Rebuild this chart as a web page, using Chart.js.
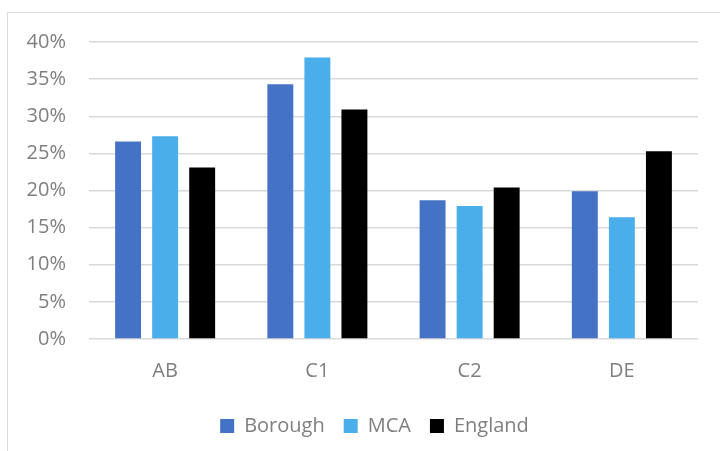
<!DOCTYPE html>
<html>
<head>
<meta charset="utf-8">
<script src="https://cdn.jsdelivr.net/npm/chart.js@4"></script>
<style>
  html, body { margin: 0; padding: 0; background: #fff; overflow: hidden; }
  #wrap { position: relative; width: 720px; height: 451px; overflow: hidden; }
  #frame {
    position: absolute; left: 7px; top: 12px; width: 800px; height: 600px;
    border: 1.5px solid #d9d9d9; box-sizing: border-box;
  }
  #myChart { position: absolute; left: 0; top: 0; }
</style>
</head>
<body>
<div id="wrap">
  <div id="frame"></div>
  <canvas id="myChart" width="739" height="451"></canvas>
</div>
<script>
const groups = ["AB", "C1", "C2", "DE"];
const borough = [26.6, 34.3, 18.7, 19.9];
const mca = [27.3, 37.9, 17.9, 16.4];
const england = [23.1, 30.9, 20.4, 25.3];
// percent axis: 0% to 40% in 5% steps
const y_min = 0;
const y_max = 40;
const y_step = 5;

const borough_color = "#4472C4";
const mca_color = "#4AAEEA";
const england_color = "#000000";
const text_color = "#7f7f7f";
const grid_color = "#d9d9d9";

Chart.defaults.font.family = "'Open Sans', sans-serif";
Chart.defaults.font.size = 20;
Chart.defaults.color = text_color;

const bar_set = (label, data, color) => ({
  label: label,
  data: data,
  backgroundColor: color,
  borderWidth: 0,
  categoryPercentage: 0.73,
  barPercentage: 0.70,
});

const ctx = document.getElementById("myChart").getContext("2d");
const myChart = new Chart(ctx, {
  type: "bar",
  data: {
    labels: groups,
    datasets: [
      bar_set("Borough", borough, borough_color),
      bar_set("MCA", mca, mca_color),
      bar_set("England", england, england_color),
    ],
  },
  options: {
    responsive: false,
    maintainAspectRatio: false,
    animation: false,
    layout: {
      padding: { left: 10, right: 0, top: 42, bottom: 5 },
    },
    plugins: {
      tooltip: { enabled: false },
      legend: {
        position: "bottom",
        labels: {
          boxWidth: 14,
          boxHeight: 14,
          padding: 19,
          color: text_color,
        },
      },
    },
    scales: {
      x: {
        grid: { display: false, drawTicks: false },
        border: { display: false },
        ticks: { padding: 20, color: text_color },
        afterFit: (scale) => {
          scale.height -= 6;
        },
      },
      y: {
        min: y_min,
        max: y_max,
        grid: { color: grid_color, lineWidth: 1.5, drawTicks: false },
        border: { display: false },
        ticks: {
          stepSize: y_step,
          padding: 23,
          color: text_color,
          callback: (v) => v + "%",
        },
        afterFit: (scale) => {
          scale.width = 79;
        },
      },
      // empty right-hand strip so the plot ends short of the canvas edge
      side: {
        position: "right",
        grid: { display: false, drawTicks: false },
        border: { display: false },
        ticks: { display: false },
        afterFit: (scale) => {
          scale.width = 41;
        },
      },
    },
  },
});
</script>
</body>
</html>
